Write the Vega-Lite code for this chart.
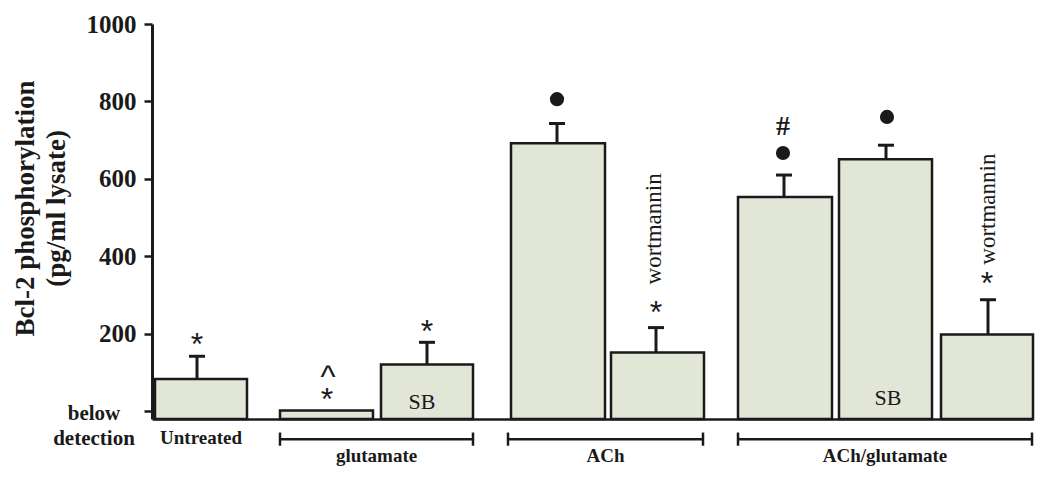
{
  "$schema": "https://vega.github.io/schema/vega-lite/v6.json",
  "autosize": "none",
  "width": 881,
  "height": 395,
  "padding": {"left": 152, "top": 24, "right": 17, "bottom": 62},
  "background": "white",
  "config": {"view": {"stroke": null}},
  "datasets": {
    "bars": [
      {"cond": "Untreated", "x0": 0.03, "x1": 0.95, "xc": 0.45, "value": 83, "upper": 142},
      {"cond": "glutamate", "x0": 1.28, "x1": 2.21, "xc": 1.745, "value": 2, "upper": null},
      {"cond": "glutamate SB", "x0": 2.29, "x1": 3.21, "xc": 2.75, "value": 121, "upper": 178},
      {"cond": "ACh", "x0": 3.59, "x1": 4.53, "xc": 4.05, "value": 692, "upper": 743},
      {"cond": "ACh wortmannin", "x0": 4.59, "x1": 5.52, "xc": 5.04, "value": 152, "upper": 216},
      {"cond": "ACh/glutamate", "x0": 5.86, "x1": 6.80, "xc": 6.32, "value": 553, "upper": 610},
      {"cond": "ACh/glutamate SB", "x0": 6.87, "x1": 7.80, "xc": 7.34, "value": 651, "upper": 687},
      {"cond": "ACh/glutamate wortmannin", "x0": 7.89, "x1": 8.81, "xc": 8.36, "value": 198, "upper": 288}
    ],
    "ann": [
      {"type": "star", "x": 0.45, "y": 192, "text": "*"},
      {"type": "star", "x": 1.75, "y": 50, "text": "*"},
      {"type": "star", "x": 2.75, "y": 226, "text": "*"},
      {"type": "star", "x": 5.04, "y": 274, "text": "*"},
      {"type": "star", "x": 8.35, "y": 348, "text": "*"},
      {"type": "caret", "x": 1.76, "y": 108, "text": "^"},
      {"type": "hash", "x": 6.31, "y": 734, "text": "#"},
      {"type": "dot", "x": 4.05, "y": 806, "text": ""},
      {"type": "dot", "x": 6.31, "y": 667, "text": ""},
      {"type": "dot", "x": 7.35, "y": 760, "text": ""},
      {"type": "sb", "x": 2.70, "y": 24, "text": "SB"},
      {"type": "sb", "x": 7.36, "y": 35, "text": "SB"},
      {"type": "wort", "x": 5.02, "y": 471, "text": "wortmannin"},
      {"type": "wort", "x": 8.36, "y": 522, "text": "wortmannin"}
    ],
    "groups": [
      {"label": "glutamate", "a": 1.28, "b": 3.21, "mid": 2.245},
      {"label": "ACh", "a": 3.56, "b": 5.51, "mid": 4.535},
      {"label": "ACh/glutamate", "a": 5.86, "b": 8.80, "mid": 7.33}
    ]
  },
  "layer": [
    {
      "data": {"name": "bars"},
      "mark": {"type": "bar", "fill": "#e2e6d7", "stroke": "#1a1a1a", "strokeWidth": 2.5},
      "encoding": {
        "x": {"field": "x0", "type": "quantitative", "scale": {"domain": [0, 8.81], "nice": false, "zero": false},
          "axis": {"labels": false, "ticks": false, "title": null, "grid": false, "domainColor": "#1a1a1a", "domainWidth": 2.5}},
        "x2": {"field": "x1"},
        "y": {"field": "value", "type": "quantitative", "scale": {"domain": [-20, 1000], "nice": false, "zero": false},
          "axis": {
            "values": [0, 200, 400, 600, 800, 1000],
            "format": "d",
            "grid": false,
            "domainColor": "#1a1a1a", "domainWidth": 3,
            "tickColor": "#1a1a1a", "tickWidth": 2.5, "tickSize": 8,
            "labelFont": "Liberation Serif", "labelFontWeight": "bold",
            "labelFontSize": 25,
            "labelColor": "#1a1a1a",
            "labelPadding": 8,
            "labelExpr": "datum.value == 0 ? '' : datum.label",
            "title": ["Bcl-2 phosphorylation", "(pg/ml lysate)"],
            "titleFont": "Liberation Serif", "titleFontWeight": "bold", "titleFontSize": 27,
            "titleColor": "#1a1a1a",
            "titleLineHeight": 31,
            "titleAngle": -90,
            "titleBaseline": "top",
            "titleAlign": "center",
            "titleX": -140,
            "titleY": 184
          }},
        "y2": {"datum": -20}
      }
    },
    {
      "data": {"values": [{"lab": "below detection"}]},
      "mark": {"type": "text", "font": "Liberation Serif", "fontWeight": "bold", "fontSize": 21, "baseline": "top", "align": "center", "lineHeight": 25, "color": "#1a1a1a"},
      "encoding": {"x": {"datum": -0.58}, "y": {"datum": 21}, "text": {"value": ["below", "detection"]}}
    },
    {
      "data": {"name": "bars"},
      "transform": [{"filter": "datum.upper != null"}],
      "mark": {"type": "rule", "stroke": "#1a1a1a", "strokeWidth": 3},
      "encoding": {"x": {"field": "xc", "type": "quantitative"}, "y": {"field": "value", "type": "quantitative"}, "y2": {"field": "upper"}}
    },
    {
      "data": {"name": "bars"},
      "transform": [{"filter": "datum.upper != null"}],
      "mark": {"type": "tick", "orient": "horizontal", "size": 16, "thickness": 3, "color": "#1a1a1a", "opacity": 1},
      "encoding": {"x": {"field": "xc", "type": "quantitative"}, "y": {"field": "upper", "type": "quantitative"}}
    },
    {
      "data": {"name": "ann"},
      "transform": [{"filter": "datum.type == 'star'"}],
      "mark": {"type": "text", "font": "Liberation Sans", "fontSize": 32, "baseline": "middle", "dy": 8, "color": "#1a1a1a"},
      "encoding": {"x": {"field": "x", "type": "quantitative"}, "y": {"field": "y", "type": "quantitative"}, "text": {"field": "text"}}
    },
    {
      "data": {"name": "ann"},
      "transform": [{"filter": "datum.type == 'caret'"}],
      "mark": {"type": "text", "font": "Liberation Sans", "fontSize": 32, "baseline": "middle", "dy": 8, "color": "#1a1a1a"},
      "encoding": {"x": {"field": "x", "type": "quantitative"}, "y": {"field": "y", "type": "quantitative"}, "text": {"field": "text"}}
    },
    {
      "data": {"name": "ann"},
      "transform": [{"filter": "datum.type == 'hash'"}],
      "mark": {"type": "text", "font": "Liberation Serif", "fontSize": 28, "fontWeight": "bold", "baseline": "middle", "color": "#1a1a1a"},
      "encoding": {"x": {"field": "x", "type": "quantitative"}, "y": {"field": "y", "type": "quantitative"}, "text": {"field": "text"}}
    },
    {
      "data": {"name": "ann"},
      "transform": [{"filter": "datum.type == 'dot'"}],
      "mark": {"type": "point", "shape": "circle", "filled": true, "size": 200, "color": "#1a1a1a", "opacity": 1},
      "encoding": {"x": {"field": "x", "type": "quantitative"}, "y": {"field": "y", "type": "quantitative"}}
    },
    {
      "data": {"name": "ann"},
      "transform": [{"filter": "datum.type == 'sb'"}],
      "mark": {"type": "text", "font": "Liberation Serif", "fontSize": 22, "baseline": "middle", "color": "#1a1a1a"},
      "encoding": {"x": {"field": "x", "type": "quantitative"}, "y": {"field": "y", "type": "quantitative"}, "text": {"field": "text"}}
    },
    {
      "data": {"name": "ann"},
      "transform": [{"filter": "datum.type == 'wort'"}],
      "mark": {"type": "text", "font": "Liberation Serif", "fontSize": 23, "angle": 270, "baseline": "middle", "align": "center", "color": "#1a1a1a"},
      "encoding": {"x": {"field": "x", "type": "quantitative"}, "y": {"field": "y", "type": "quantitative"}, "text": {"field": "text"}}
    },
    {
      "data": {"name": "groups"},
      "mark": {"type": "rule", "stroke": "#1a1a1a", "strokeWidth": 2.5},
      "encoding": {"x": {"field": "a", "type": "quantitative"}, "x2": {"field": "b"}, "y": {"datum": -72}}
    },
    {
      "data": {"name": "groups"},
      "mark": {"type": "rule", "stroke": "#1a1a1a", "strokeWidth": 2.5},
      "encoding": {"x": {"field": "a", "type": "quantitative"}, "y": {"datum": -55}, "y2": {"datum": -89}}
    },
    {
      "data": {"name": "groups"},
      "mark": {"type": "rule", "stroke": "#1a1a1a", "strokeWidth": 2.5},
      "encoding": {"x": {"field": "b", "type": "quantitative"}, "y": {"datum": -55}, "y2": {"datum": -89}}
    },
    {
      "data": {"name": "groups"},
      "mark": {"type": "text", "font": "Liberation Serif", "fontWeight": "bold", "fontSize": 19, "baseline": "middle", "color": "#1a1a1a"},
      "encoding": {"x": {"field": "mid", "type": "quantitative"}, "y": {"datum": -115}, "text": {"field": "label"}}
    },
    {
      "data": {"values": [{"label": "Untreated", "x": 0.49}]},
      "mark": {"type": "text", "font": "Liberation Serif", "fontWeight": "bold", "fontSize": 19, "baseline": "middle", "color": "#1a1a1a"},
      "encoding": {"x": {"field": "x", "type": "quantitative"}, "y": {"datum": -68}, "text": {"field": "label"}}
    }
  ]
}
